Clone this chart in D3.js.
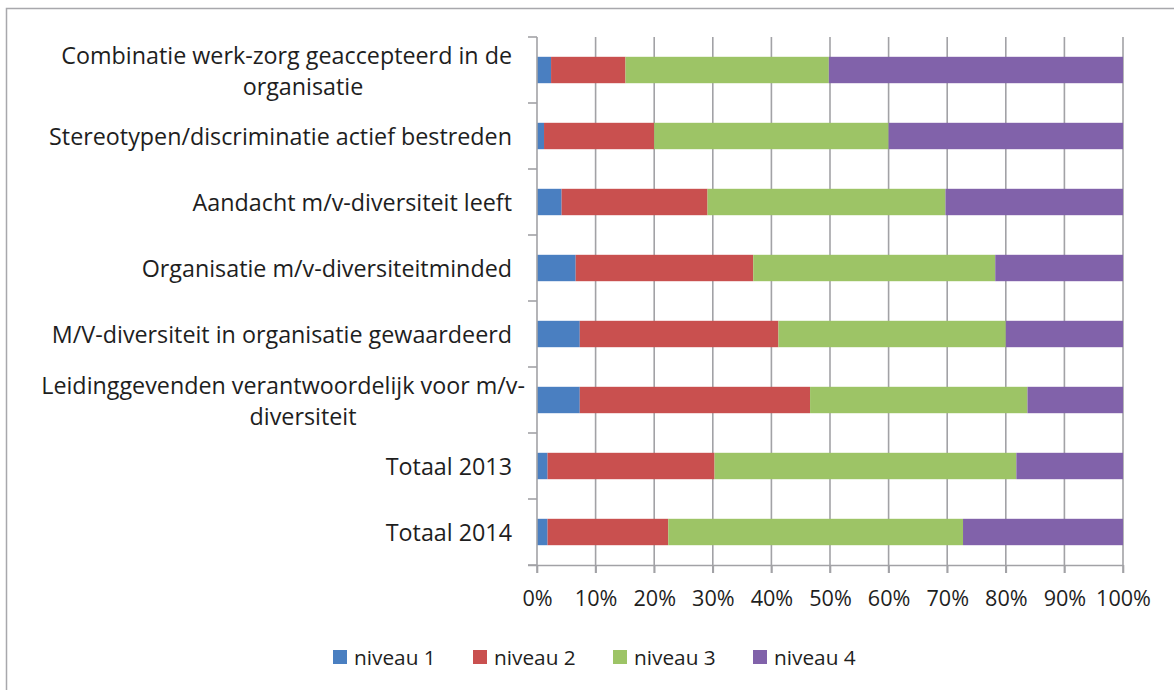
<!DOCTYPE html>
<html>
<head>
<meta charset="utf-8">
<script src="https://cdn.jsdelivr.net/npm/d3@7"></script>
<style>
  body { margin: 0; background: #fff; }
  svg { display: block; }
  text { font-family: "Open Sans", sans-serif; fill: #1e1e1e; font-variant-ligatures: none; }
</style>
</head>
<body>
<svg id="chart" width="1174" height="690"></svg>
<script>
// ---- data ----
const categories = [
  ["Combinatie werk-zorg geaccepteerd in de", "organisatie"],
  ["Stereotypen/discriminatie actief bestreden"],
  ["Aandacht m/v-diversiteit leeft"],
  ["Organisatie m/v-diversiteitminded"],
  ["M/V-diversiteit in organisatie gewaardeerd"],
  ["Leidinggevenden verantwoordelijk voor m/v-", "diversiteit"],
  ["Totaal 2013"],
  ["Totaal 2014"]
];
const seriesNames = ["niveau 1", "niveau 2", "niveau 3", "niveau 4"];
const niveau1 = [2.4, 1.2, 4.2, 6.6, 7.3, 7.3, 1.8, 1.8];
const niveau2 = [12.7, 18.8, 24.9, 30.3, 33.9, 39.3, 28.5, 20.6];
const niveau3 = [34.7, 40.0, 40.6, 41.3, 38.8, 37.1, 51.5, 50.3];
const niveau4 = [50.2, 40.0, 30.3, 21.8, 20.0, 16.3, 18.2, 27.3];
const xTicks = [0, 10, 20, 30, 40, 50, 60, 70, 80, 90, 100];
const colors = ["#4a7fc1", "#c9504f", "#9dc466", "#8162aa"];

// ---- layout ----
const svg = d3.select("#chart");
const margin = { left: 537, right: 51, top: 37, bottom: 125 };
const W = 1174, H = 690;
const innerW = W - margin.left - margin.right;
const innerH = H - margin.top - margin.bottom;
const FS_CAT = 23.3, FS_TICK = 21.6, FS_LEG = 20.8;

// frame
svg.append("rect")
  .attr("x", 6.5).attr("y", 8.5)
  .attr("width", 1200).attr("height", 700)
  .attr("fill", "none").attr("stroke", "#a8a8ac").attr("stroke-width", 1.5);

const g = svg.append("g").attr("transform", `translate(${margin.left},${margin.top})`);

const idx = categories.map((d, i) => i);
const x = d3.scaleLinear().domain([0, 100]).range([0, innerW]);
const y = d3.scaleBand().domain(idx).range([0, innerH]).paddingInner(0.6).paddingOuter(0.3);

// gridlines
g.append("g").selectAll("line").data(xTicks.slice(1)).join("line")
  .attr("x1", d => x(d)).attr("x2", d => x(d))
  .attr("y1", 0).attr("y2", innerH + 8)
  .attr("stroke", "#a2a2a6").attr("stroke-width", 1.6);

// stacked bars
const rows = idx.map(i => ({ i, v: [niveau1[i], niveau2[i], niveau3[i], niveau4[i]] }));
const keys = [0, 1, 2, 3];
const stack = d3.stack().keys(keys).value((d, k) => d.v[k]).offset(d3.stackOffsetExpand);
const stacked = stack(rows);

g.append("g").selectAll("g").data(stacked).join("g")
  .attr("fill", (d, k) => colors[k])
  .selectAll("rect").data(d => d).join("rect")
  .attr("x", d => x(d[0] * 100))
  .attr("width", d => x(d[1] * 100) - x(d[0] * 100))
  .attr("y", d => y(d.data.i))
  .attr("height", y.bandwidth());

// x axis
const xAxis = d3.axisBottom(x).tickValues(xTicks).tickFormat(d => d + "%").tickSize(8).tickPadding(18);
const xa = g.append("g").attr("transform", `translate(0,${innerH})`).call(xAxis);
xa.select(".domain").attr("d", `M-9,0.5H${innerW}`).attr("stroke", "#a2a2a6").attr("stroke-width", 1.6);
xa.selectAll(".tick line").attr("stroke", "#a2a2a6").attr("stroke-width", 1.6);
xa.selectAll(".tick text").attr("font-size", FS_TICK).attr("font-family", "'Open Sans', sans-serif").attr("fill", "#1e1e1e");

// y axis line + ticks at band boundaries
const boundaries = d3.range(categories.length + 1).map(k => k * y.step());
g.append("line").attr("x1", 0).attr("x2", 0).attr("y1", 0).attr("y2", innerH + 8)
  .attr("stroke", "#a2a2a6").attr("stroke-width", 1.6);
g.append("g").selectAll("line").data(boundaries).join("line")
  .attr("x1", -9).attr("x2", 0).attr("y1", d => d).attr("y2", d => d)
  .attr("stroke", "#a2a2a6").attr("stroke-width", 1.6);

// category labels
const labX = -25;
const lineH = 31;
const lab = g.append("g").selectAll("text").data(idx).join("text")
  .attr("font-size", FS_CAT)
  .attr("dominant-baseline", "central");
lab.each(function(i) {
  const t = d3.select(this);
  const lines = categories[i];
  const cy = y(i) + y.bandwidth() / 2;
  if (lines.length === 1) {
    t.append("tspan").attr("x", labX).attr("y", cy).attr("text-anchor", "end").text(lines[0]);
  } else {
    t.append("tspan").attr("x", labX + (i === 5 ? 13 : 0)).attr("y", cy - lineH / 2).attr("text-anchor", "end").text(lines[0]);
    t.append("tspan").attr("x", -234).attr("y", cy + lineH / 2).attr("text-anchor", "middle").text(lines[1]);
  }
});

// legend
const leg = svg.append("g").selectAll("g").data(seriesNames).join("g")
  .attr("transform", (d, k) => `translate(${333 + k * 140},650)`);
leg.append("rect").attr("width", 14).attr("height", 14).attr("fill", (d, k) => colors[k]);
leg.append("text").attr("x", 21).attr("y", 7).attr("dominant-baseline", "central")
  .attr("font-size", FS_LEG).text(d => d);
</script>
</body>
</html>
